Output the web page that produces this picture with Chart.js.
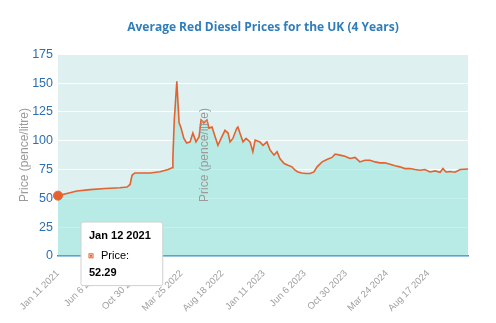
<!DOCTYPE html>
<html>
<head>
<meta charset="utf-8">
<script src="https://cdn.jsdelivr.net/npm/chart.js@4/dist/chart.umd.min.js"></script>
<style>
  body { margin: 0; background: #fff; }
  #wrap { width: 496px; height: 323px; }
</style>
</head>
<body>
<div id="wrap"><canvas id="priceChart"></canvas></div>
<script>
// days since Jan 12 2021 (first reading) and average price in pence/litre
const dayOffsets = [0,28,67,114,167,220,245,256,263,273,327,362,391,405,408,413,422,426,430,437,
  447,457,469,479,490,501,508,518,529,536,547,558,568,579,593,604,611,621,635,639,
  646,657,668,682,692,700,717,728,742,753,767,778,788,803,817,831,842,852,866,881,
  895,909,920,938,955,973,984,1001,1019,1037,1055,1072,1090,1108,1126,1143,1161,1179,1197,1214,
  1232,1250,1268,1286,1303,1321,1339,1357,1367,1378,1392,1410,1428,1456]
const prices = [52.29,54,56.3,57.5,58.5,59.2,59.8,62,70,72,72,73,75,76.5,86,118,151.6,133,115.5,111,
  102,98,99,106.7,99,103.5,118,115.5,118,111,112,103.5,96,102,109,106.7,99,102,111,112,
  106.7,99,102,99,90.4,100.6,99,96,99,92,87.5,90.4,84.6,80.2,78.7,77.3,74.4,72.9,72,71.5,
  71.5,72.9,77.3,81.6,83.7,85.5,88.4,87.5,86.6,84.6,85.5,81.6,83.1,83.1,81.6,80.8,80.8,79.5,78.3,77.3,
  75.8,75.8,75,74.4,75,72.9,73.8,72.6,75.8,72.9,73.2,72.6,75,75.5]
const tickLabels = ['Jan 11 2021','Jun 6 2021','Oct 30 2021','Mar 25 2022','Aug 18 2022',
  'Jan 11 2023','Jun 6 2023','Oct 30 2023','Mar 24 2024','Aug 17 2024']
const tickStep = 146
const yTicks = [0,25,50,75,100,125,150,175]
const yTitle = 'Price (pence/litre)'

const months = ['Jan','Feb','Mar','Apr','May','Jun','Jul','Aug','Sep','Oct','Nov','Dec']
let fmtDate = function(offset) {
  let d = new Date(Date.UTC(2021, 0, 12) + offset * 86400000)
  return months[d.getUTCMonth()] + ' ' + d.getUTCDate() + ' ' + d.getUTCFullYear()
}

let points = dayOffsets.map((d, i) => ({x: d, y: prices[i]}))

let drawSideText = function(ctx, x, y) {
  ctx.save()
  ctx.translate(x, y)
  ctx.rotate(-Math.PI / 2)
  ctx.fillStyle = '#9a9a9a'
  ctx.font = '12px "Liberation Sans", Arial, sans-serif'
  ctx.textAlign = 'center'
  ctx.textBaseline = 'middle'
  ctx.fillText(yTitle, 0, 0)
  ctx.restore()
}

// plot area background, y title, and the stray copy of it over the plot
const plotBg = {
  id: 'plotBg',
  beforeDraw(chart) {
    let {ctx, chartArea: a} = chart
    ctx.save()
    ctx.fillStyle = '#dff0f0'
    ctx.fillRect(a.left, a.top, a.right - a.left, a.bottom - a.top)
    ctx.restore()
    drawSideText(ctx, 25, 155)
  },
  afterDatasetsDraw(chart) {
    drawSideText(chart.ctx, 205, 155)
  }
}

Chart.Tooltip.positioners.fixedBox = function() {
  return {x: 83, y: 222, xAlign: 'left', yAlign: 'top'}
}

let ctx = document.getElementById('priceChart').getContext('2d')
let chart = new Chart(ctx, {
  type: 'line',
  data: {
    datasets: [{
      label: 'Price',
      data: points,
      clip: false,
      borderColor: '#e4622f',
      borderWidth: 1.6,
      backgroundColor: 'rgba(160,232,225,0.62)',
      fill: 'origin',
      tension: 0,
      pointRadius: 0,
      pointHoverRadius: 4.5,
      pointHoverBackgroundColor: '#e4622f',
      pointHoverBorderColor: '#e4622f',
      pointHoverBorderWidth: 1
    }]
  },
  options: {
    responsive: true,
    maintainAspectRatio: false,
    animation: false,
    layout: { autoPadding: false, padding: { left: 0, right: 28, top: 0, bottom: 5 } },
    scales: {
      x: {
        type: 'linear',
        min: 0,
        max: dayOffsets[dayOffsets.length - 1],
        afterBuildTicks: scale => {
          scale.ticks = tickLabels.map((l, i) => ({value: i * tickStep}))
        },
        ticks: {
          autoSkip: false,
          minRotation: 45,
          maxRotation: 45,
          padding: 4,
          color: '#a0a0a0',
          font: { family: '"Liberation Sans", Arial, sans-serif', size: 9.5 },
          callback: (v, i) => tickLabels[i]
        },
        grid: { display: false },
        border: { display: true, color: '#3d8dc8', width: 1.5 }
      },
      y: {
        min: 0,
        max: 175,
        afterBuildTicks: scale => {
          scale.ticks = yTicks.map(v => ({value: v}))
        },
        afterFit: scale => { scale.width = 58 },
        ticks: {
          padding: 5,
          color: '#2c6fb3',
          font: { family: '"Liberation Sans", Arial, sans-serif', size: 12.5 }
        },
        grid: { color: '#ffffff', lineWidth: 1, drawTicks: false },
        border: { display: false }
      }
    },
    plugins: {
      legend: { display: false },
      title: {
        display: true,
        fullSize: false,
        text: 'Average Red Diesel Prices for the UK (4 Years)',
        color: '#2f7db9',
        font: { family: '"Open Sans", sans-serif', size: 12, weight: 'bold' },
        padding: { top: 20, bottom: 20 }
      },
      tooltip: {
        enabled: true,
        position: 'fixedBox',
        xAlign: 'left',
        yAlign: 'top',
        caretSize: 0,
        caretPadding: 0,
        cornerRadius: 2,
        backgroundColor: '#ffffff',
        borderColor: '#d0d0d0',
        borderWidth: 1,
        padding: { top: 7, bottom: 6, left: 8, right: 12 },
        titleColor: '#000',
        bodyColor: '#000',
        footerColor: '#000',
        titleFont: { family: '"Liberation Sans", Arial, sans-serif', size: 11, weight: 'bold' },
        bodyFont: { family: '"Liberation Sans", Arial, sans-serif', size: 11 },
        footerFont: { family: '"Liberation Sans", Arial, sans-serif', size: 11, weight: 'bold' },
        titleMarginBottom: 7,
        footerMarginTop: 4,
        boxWidth: 4,
        boxHeight: 4,
        boxPadding: 6,
        callbacks: {
          title: items => fmtDate(items[0].parsed.x),
          label: () => 'Price:',
          footer: items => items[0].parsed.y.toFixed(2),
          labelColor: () => ({borderColor: '#e4622f', backgroundColor: '#e4622f', borderWidth: 0})
        }
      }
    }
  },
  plugins: [plotBg]
})

chart.setActiveElements([{datasetIndex: 0, index: 0}])
chart.tooltip.setActiveElements([{datasetIndex: 0, index: 0}], {x: 58, y: 196})
chart.update()
</script>
</body>
</html>
